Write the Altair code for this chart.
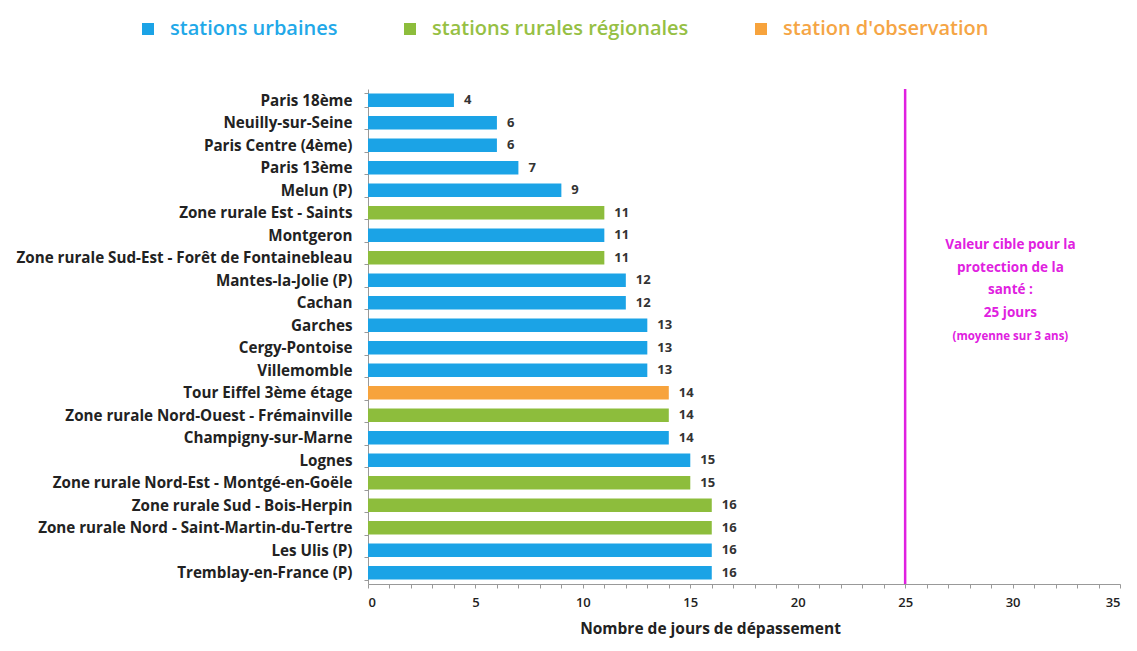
import altair as alt
import pandas as pd

stations = [
    "Paris 18ème", "Neuilly-sur-Seine", "Paris Centre (4ème)", "Paris 13ème",
    "Melun (P)", "Zone rurale Est - Saints", "Montgeron",
    "Zone rurale Sud-Est - Forêt de Fontainebleau", "Mantes-la-Jolie (P)",
    "Cachan", "Garches", "Cergy-Pontoise", "Villemomble",
    "Tour Eiffel 3ème étage", "Zone rurale Nord-Ouest - Frémainville",
    "Champigny-sur-Marne", "Lognes", "Zone rurale Nord-Est - Montgé-en-Goële",
    "Zone rurale Sud - Bois-Herpin", "Zone rurale Nord - Saint-Martin-du-Tertre",
    "Les Ulis (P)", "Tremblay-en-France (P)",
]
jours = [4, 6, 6, 7, 9, 11, 11, 11, 12, 12, 13, 13, 13, 14, 14, 14, 15, 15, 16, 16, 16, 16]
U, R, O = "stations urbaines", "stations rurales régionales", "station d'observation"
types = [U, U, U, U, U, R, U, R, U, U, U, U, U, O, R, U, U, R, R, R, U, U]

type_order = [U, R, O]
type_colors = ["#1ba3e6", "#8dbd3c", "#f7a33c"]
legend_text_colors = ["#22a8e8", "#96c044", "#f5a545"]

seuil = [25]
annot_main = ["Valeur cible pour la\nprotection de la\nsanté :\n25 jours"]
annot_small = ["(moyenne sur 3 ans)"]
annot_x = 29.9
x_ticks = list(range(0, 36))

df = pd.DataFrame({"station": stations, "jours": jours, "type": types})

FONT = "Open Sans"
MAGENTA = "#e020e0"

y_scale = alt.Scale(domain=stations, paddingInner=0.4, paddingOuter=0.2)
x_scale = alt.Scale(domain=[0, 35], nice=False)

x_axis = alt.Axis(values=x_ticks,
                  labelExpr="datum.value % 5 == 0 ? datum.label : ''",
                  labelOverlap=False,
                  grid=False, tickSize=4, domainColor="#999", tickColor="#999",
                  labelFont=FONT, labelFontSize=13, labelFontWeight=600,
                  labelColor="#222", labelPadding=8,
                  titleFont=FONT, titleFontSize=15.5, titleFontWeight="bold",
                  titleColor="#222", titlePadding=12, titleX=342)

y_axis = alt.Axis(labelFontSize=15.2, labelFontWeight="bold", labelColor="#222",
                  labelFont=FONT, tickSize=4, tickBand="extent", labelPadding=12,
                  domainColor="#999", tickColor="#999", labelLimit=400)

x_enc = alt.X("jours:Q", title="Nombre de jours de dépassement", scale=x_scale, axis=x_axis)
y_enc = alt.Y("station:N", sort=None, title=None, scale=y_scale, axis=y_axis)

legend_color_expr = (
    "indexof(datum.label, 'urbaines') >= 0 ? '" + legend_text_colors[0] + "' : "
    "(indexof(datum.label, 'rurales') >= 0 ? '" + legend_text_colors[1] + "' : '"
    + legend_text_colors[2] + "')"
)

bars = alt.Chart(df).mark_bar().encode(
    y=y_enc,
    x=x_enc,
    color=alt.Color("type:N", scale=alt.Scale(domain=type_order, range=type_colors),
                    legend=alt.Legend(title=None, orient="none", direction="horizontal",
                                      legendX=-230, legendY=-70,
                                      symbolType="square", symbolSize=144,
                                      symbolStrokeWidth=0, symbolOpacity=1,
                                      labelFont=FONT, labelFontSize=20,
                                      labelFontWeight=600,
                                      labelColor=alt.ExprRef(legend_color_expr),
                                      columnPadding=62, labelOffset=12,
                                      labelLimit=400)),
)

labels = alt.Chart(df).mark_text(align="left", dx=10, font=FONT, fontSize=13,
                                 fontWeight="bold", color="#333").encode(
    y=y_enc, x=x_enc, text="jours:Q")

rule = alt.Chart(pd.DataFrame({"jours": seuil})).mark_rule(color=MAGENTA, strokeWidth=2.5).encode(
    x=x_enc)

t1 = alt.Chart(pd.DataFrame({"jours": [annot_x], "station": ["Montgeron"], "t": annot_main})).mark_text(
    align="center", baseline="middle", font=FONT, fontSize=13.5, fontWeight="bold",
    color=MAGENTA, lineBreak="\n", lineHeight=22.5, dy=10).encode(
    x=x_enc, y=y_enc, text="t:N")

t2 = alt.Chart(pd.DataFrame({"jours": [annot_x], "station": ["Garches"], "t": annot_small})).mark_text(
    align="center", baseline="middle", font=FONT, fontSize=11.5, fontWeight="bold",
    color=MAGENTA, dy=12).encode(
    x=x_enc, y=y_enc, text="t:N")

chart = alt.layer(bars, labels, rule, t1, t2).properties(
    width=752, height=495,
    background="white",
    autosize=alt.AutoSizeParams(type="none"),
    padding={"left": 360, "top": 81, "right": 9, "bottom": 58},
).configure_view(stroke=None)

chart.save("out.html", embed_options={"renderer": "svg", "actions": False})
